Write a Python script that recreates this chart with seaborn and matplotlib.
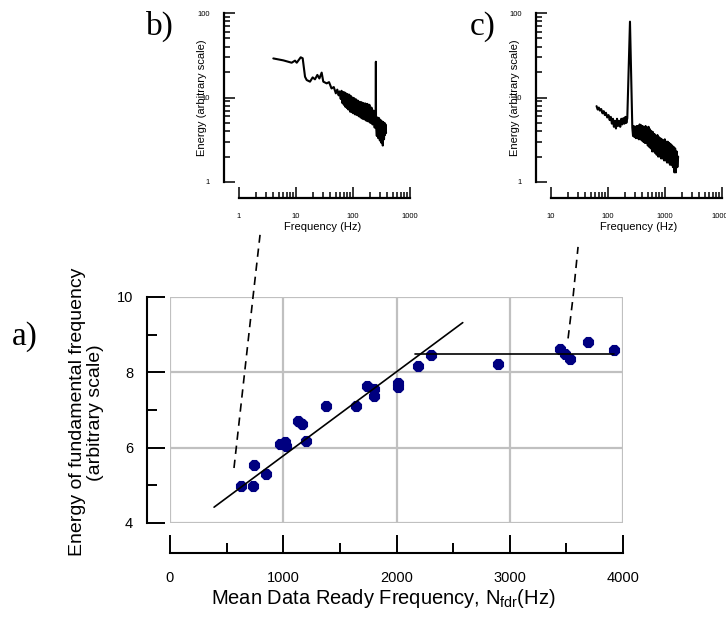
import matplotlib
matplotlib.use("Agg")
import matplotlib.pyplot as plt
from matplotlib.ticker import NullFormatter, LogLocator
import seaborn as sns

# ---- panel a) energy of the fundamental vs mean data ready frequency ----
ndr_hz = [630, 730, 742, 848, 971, 1016, 1024, 1133, 1169, 1201, 1378, 1643,
          1737, 1801, 1801, 2011, 2011, 2193, 2305, 2900, 3444, 3488, 3532,
          3694, 3924]
energy = [4.98, 4.98, 5.55, 5.30, 6.10, 6.16, 6.04, 6.72, 6.62, 6.19, 7.10,
          7.10, 7.65, 7.57, 7.37, 7.71, 7.60, 8.17, 8.46, 8.21, 8.62, 8.50,
          8.35, 8.80, 8.60]

fit_rise_x = [389, 2585]
fit_rise_y = [4.42, 9.32]
fit_flat_x = [2160, 3924]
fit_flat_y = [8.48, 8.48]

# dashed leaders from the points up to the insets (panel a data units)
lead_b_x = [565, 733, 795]
lead_b_y = [5.46, 10.0, 11.65]
lead_c_x = [3515, 3559, 3603]
lead_c_y = [8.90, 10.0, 11.33]

x_major = [0, 1000, 2000, 3000, 4000]
x_minor = [500, 1500, 2500, 3500]
y_major = [4, 6, 8, 10]
y_minor = [5, 7, 9]

# ---- panel b) spectrum at low data ready frequency ----
b_freq = [4.0, 6.0, 8.4, 9.6, 10.3, 12.1, 13.1, 14.4, 15.4, 17.6, 19.6, 21.5,
          23.7, 25.7, 28.2, 30.1, 34.5, 38, 42, 46, 50, 53, 56, 58, 61,
          63, 65, 67, 69, 71, 73, 75, 78, 80, 83, 86, 89, 92, 95, 98, 101,
          105, 109, 113, 117, 121, 126, 131, 136, 141, 147, 153, 159, 165,
          172, 179, 186, 194, 202, 211, 220, 230, 240, 248, 250, 252, 253.5,
          262, 270, 278, 287, 296, 306, 316, 327, 333, 340, 350, 358, 364,
          372, 380]
b_energy = [29.0, 27.5, 25.8, 27.3, 25.8, 29.9, 29.1, 17.6, 16.1, 15.4, 17.3,
            16.4, 18.5, 16.8, 19.7, 15.4, 14.7, 15.2, 12.8, 13.3, 11.2, 12.4,
            10.6, 11.8, 9.6,
            12.0, 8.6, 11.6, 8.2, 11.5, 7.8, 11.2, 7.5, 11.0, 7.2, 10.8, 6.8,
            10.4, 6.7, 10.0, 6.5, 9.8, 6.3, 9.5, 6.2, 9.2, 6.0, 8.9, 5.8, 8.8,
            5.6, 8.6, 5.5, 8.5, 5.3, 8.4, 5.2, 8.2, 5.0, 7.6, 4.8, 7.0, 4.4,
            6.6, 5.0, 26.5, 4.6,
            3.5, 5.8, 3.3, 5.7, 3.1, 5.4, 2.9, 5.2, 2.7, 5.1, 3.2, 5.0, 3.6,
            4.8, 3.8]

# ---- panel c) spectrum at high data ready frequency ----
c_freq = [63, 66, 69, 72, 76, 80, 84, 88, 92, 97, 102, 107, 112, 117, 122,
          127, 132, 138, 144, 150, 157, 164, 171, 178, 186, 194, 202, 210,
          218, 243, 267, 275, 283, 291, 300, 309, 318, 328, 338, 348, 359,
          370, 381, 393, 405, 417, 430, 443, 456, 470, 484, 499, 514, 530,
          546, 562, 579, 597, 615, 634, 653, 673, 693, 714, 736, 758, 781,
          805, 829, 854, 880, 907, 934, 962, 991, 1021, 1052, 1084, 1117,
          1151, 1186, 1222, 1259, 1297, 1336, 1377, 1419, 1462, 1506, 1552,
          1599, 1648, 1700]
c_energy = [7.9, 7.2, 7.6, 7.0, 7.3, 6.5, 6.9, 6.2, 6.6, 5.8, 6.2, 5.4, 5.9,
            4.9, 5.6, 4.5, 5.3, 4.3, 5.6, 4.6, 5.3, 4.5, 5.6, 4.8, 5.7, 4.9,
            5.9, 5.0, 5.7, 79.0,
            4.4, 3.5, 4.6, 3.4, 4.5, 3.3, 4.6, 3.3, 4.6, 3.2, 4.8, 3.2, 4.7,
            3.1, 4.6, 3.0, 4.4, 2.9, 4.6, 2.9, 4.4, 2.7, 4.5, 2.6, 4.2, 2.5,
            4.0, 2.3, 3.9, 2.3, 3.7, 2.2, 3.5, 2.1, 3.6, 2.0, 3.4, 2.0, 3.3,
            1.9, 3.2, 1.9, 3.1, 1.8, 3.2, 1.8, 3.0, 1.7, 3.0, 1.7, 2.9, 1.6,
            2.8, 1.6, 2.7, 1.5, 2.6, 1.3, 2.5, 1.3, 2.3, 1.5, 2.0]

sns.set_theme(style="white")
plt.rcParams['font.family'] = ['Liberation Sans', 'DejaVu Sans']
plt.rcParams['mathtext.fontset'] = 'custom'
plt.rcParams['mathtext.rm'] = 'Liberation Sans'

W, H = 726, 617
fig = plt.figure(figsize=(W / 100, H / 100), dpi=100)


def px_axes(left, right, bottom, top):
    # pixel box -> figure fraction
    return [left / W, (H - bottom) / H, (right - left) / W, (bottom - top) / H]


# main panel
ax = fig.add_axes(px_axes(170, 623, 523, 297))
ax.set_xlim(0, 4000)
ax.set_ylim(4, 10)
ax.set_axisbelow(True)

sns.scatterplot(x=ndr_hz, y=energy, ax=ax, marker='8', s=75, color='#000080',
                edgecolor='#000080', linewidth=0, zorder=3, legend=False)
ax.plot(fit_rise_x, fit_rise_y, color='black', lw=1.2, zorder=4)
ax.plot(fit_flat_x, fit_flat_y, color='black', lw=1.2, zorder=4)
for lx, ly in [(lead_b_x, lead_b_y), (lead_c_x, lead_c_y)]:
    ax.plot(lx, ly, color='black', lw=1.2, ls=(0, (5, 3.5)), clip_on=False,
            zorder=4)

ax.set_xticks(x_major)
ax.set_xticks(x_minor, minor=True)
ax.set_yticks(y_major)
ax.set_yticks(y_minor, minor=True)
ax.set_xticklabels([str(v) for v in x_major])
ax.set_yticklabels([str(v) for v in y_major])
ax.grid(True, which='major', color='#c0c0c0', lw=1.6)
for gl in ax.get_xgridlines() + ax.get_ygridlines():
    gl.set_clip_on(False)

for side in ['top', 'right']:
    ax.spines[side].set_visible(False)
ax.spines['left'].set_position(('outward', 16.5))
ax.spines['bottom'].set_position(('outward', 21.5))
for side in ['left', 'bottom']:
    ax.spines[side].set_color('black')
    ax.spines[side].set_linewidth(1.5)

ax.tick_params(axis='both', which='major', direction='in', length=13,
               width=1.4, color='black', labelsize=10.5, labelcolor='black')
ax.tick_params(axis='both', which='minor', direction='in', length=7,
               width=1.4, color='black')
ax.tick_params(axis='x', which='major', pad=13)
ax.tick_params(axis='y', which='major', pad=10)
ax.tick_params(axis='both', which='both', bottom=True, left=True)

ax.set_xlabel('Mean Data Ready Frequency, N$_{\\mathregular{fdr}}$(Hz)',
              fontsize=14.5, color='black')
ax.xaxis.set_label_coords(0.47, -0.285)
ax.set_ylabel('Energy of fundamental frequency\n(arbitrary scale)',
              fontsize=14, color='black', linespacing=1.05)
ax.yaxis.set_label_coords(-0.146, 0.49)


def spectrum_inset(box, freq, vals, xlim, xticks, xlabels, ylabel_x, xlabel_x):
    a = fig.add_axes(px_axes(*box))
    sns.lineplot(x=freq, y=vals, ax=a, sort=False, estimator=None,
                 color='black', lw=1.5)
    a.set_xscale('log')
    a.set_yscale('log')
    a.set_xlim(*xlim)
    a.set_ylim(1, 100)
    a.set_xticks(xticks)
    a.set_xticklabels(xlabels)
    a.set_yticks([1, 10, 100])
    a.set_yticklabels(['1', '10', '100'])
    for axis in (a.xaxis, a.yaxis):
        axis.set_minor_locator(LogLocator(base=10, subs=range(2, 10)))
        axis.set_minor_formatter(NullFormatter())
    for side in ['top', 'right']:
        a.spines[side].set_visible(False)
    a.spines['left'].set_position(('outward', 11))
    a.spines['bottom'].set_position(('outward', 11.5))
    for side in ['left', 'bottom']:
        a.spines[side].set_color('black')
        a.spines[side].set_linewidth(1.6)
    a.tick_params(axis='both', which='major', direction='in', length=8,
                  width=1.1, color='black', labelsize=5.5, labelcolor='black')
    a.tick_params(axis='both', which='minor', direction='in', length=4.5,
                  width=1.1, color='black')
    a.tick_params(axis='x', which='major', pad=11)
    a.tick_params(axis='y', which='major', pad=10)
    a.tick_params(axis='both', which='both', bottom=True, left=True)
    a.set_xlabel('Frequency (Hz)', fontsize=8, color='black')
    a.xaxis.set_label_coords(xlabel_x, -0.238)
    a.set_ylabel('Energy (arbitrary scale)', fontsize=8, color='black')
    a.yaxis.set_label_coords(ylabel_x, 0.5)
    return a


spectrum_inset((239, 410, 182, 13), b_freq, b_energy, (1, 1000),
               [1, 10, 100, 1000], ['1', '10', '100', '1000'], -0.187, 0.49)
spectrum_inset((551, 722, 182, 13), c_freq, c_energy, (10, 10000),
               [10, 100, 1000, 10000], ['10', '100', '1000', '10000'],
               -0.18, 0.51)

for label, x, y in [('a)', 12, 345), ('b)', 146, 35), ('c)', 470, 35)]:
    fig.text(x / W, (H - y) / H, label, family='Liberation Serif',
             fontsize=24, va='baseline', ha='left', color='black')

fig.savefig('out.png', dpi=100)
